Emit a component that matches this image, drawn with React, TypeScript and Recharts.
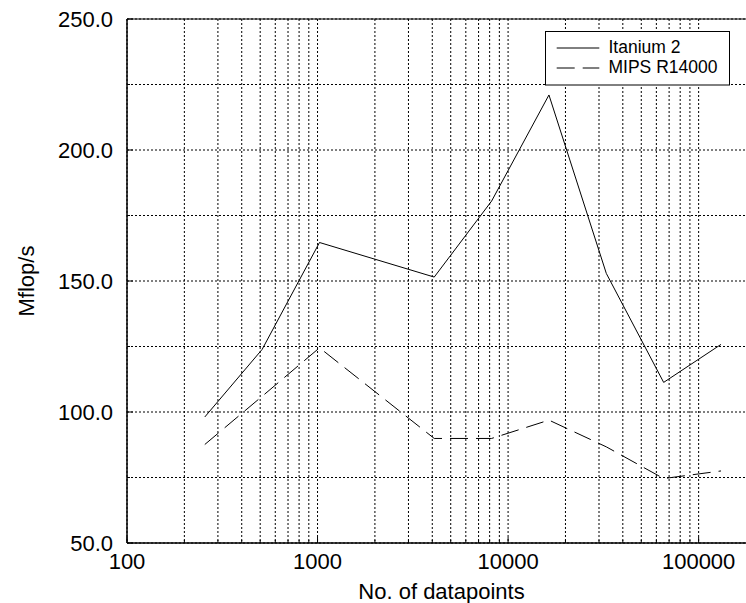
import React from 'react';
import {
  LineChart,
  Line,
  XAxis,
  YAxis,
  CartesianGrid,
  ReferenceArea,
  Legend,
  Label,
} from 'recharts';

// Problem sizes (number of datapoints) and measured throughput in Mflop/s
const sizes = [256, 512, 1024, 4096, 8192, 16384, 32768, 65536, 131072];
const itanium2 = [98.1, 123.9, 164.7, 151.5, 180.5, 221.0, 152.9, 111.3, 125.8];
const mipsR14000 = [87.6, 106.0, 124.5, 89.9, 89.9, 96.9, 86.7, 74.6, 77.5];

const seriesNames = ['Itanium 2', 'MIPS R14000'];
const seriesKeys = ['itanium', 'mips'];
const seriesDash = ['', '18 8'];

// Axis ticks: log decades with minor subdivisions on x, steps of 25 on y
const xDecades = [100, 1000, 10000, 100000];
const xMax = 200000;
const xLabels = [100, 1000, 10000, 100000];
const yTicks = [50, 75, 100, 125, 150, 175, 200, 225, 250];
const yLabels = [50, 100, 150, 200, 250];

const xTicks: number[] = [];
xDecades.forEach((d) => {
  for (let m = 1; m <= 9; m++) {
    if (m * d <= xMax) xTicks.push(m * d);
  }
});

const data = sizes.map((n, i) => ({
  n,
  itanium: itanium2[i],
  mips: mipsR14000[i],
}));

const FONT = '"Liberation Sans", Arial, Helvetica, sans-serif';

const BottomTick = (props: any) => {
  const { x, y, payload } = props;
  const major = xLabels.includes(payload.value);
  return (
    <g>
      <line x1={x} x2={x} y1={y} y2={y - (major ? 6 : 3)} stroke="#000" strokeWidth={1} />
      {major && (
        <text x={x} y={y + 26} textAnchor="middle" fontSize={22} fontFamily={FONT} fill="#000">
          {payload.value}
        </text>
      )}
    </g>
  );
};

const TopTick = (props: any) => {
  const { x, y, payload } = props;
  const major = xLabels.includes(payload.value);
  return <line x1={x} x2={x} y1={y} y2={y + (major ? 6 : 3)} stroke="#000" strokeWidth={1} />;
};

const LeftTick = (props: any) => {
  const { x, y, payload } = props;
  const major = yLabels.includes(payload.value);
  return (
    <g>
      <line x1={x} x2={x + (major ? 6 : 3)} y1={y} y2={y} stroke="#000" strokeWidth={1} />
      {major && (
        <text
          x={x - 14}
          y={y}
          dy="0.355em"
          textAnchor="end"
          fontSize={22}
          fontFamily={FONT}
          fill="#000"
        >
          {Number(payload.value).toFixed(1)}
        </text>
      )}
    </g>
  );
};

const YTitle = (props: any) => {
  const vb = props.viewBox || { x: 0, y: 0, width: 0, height: 0 };
  const cx = vb.x + 25.5;
  const cy = vb.y + vb.height / 2;
  return (
    <text
      x={cx}
      y={cy}
      transform={`rotate(-90 ${cx} ${cy})`}
      textAnchor="middle"
      fontSize={22}
      fontFamily={FONT}
      fill="#000"
    >
      Mflop/s
    </text>
  );
};

const LegendBox = (props: any) => {
  const payload = props.payload || [];
  return (
    <svg width={186} height={55} style={{ display: 'block' }}>
      <rect x={0.5} y={0.5} width={184} height={53.5} fill="#fff" stroke="#000" strokeWidth={1} />
      {payload.map((p: any, i: number) => {
        const idx = seriesNames.indexOf(p.value);
        return (
          <g key={p.value}>
            <line
              x1={11.7}
              x2={54.3}
              y1={17 + 20 * i}
              y2={17 + 20 * i}
              stroke="#000"
              strokeWidth={1}
              strokeDasharray={seriesDash[idx] || undefined}
            />
            <text x={63.5} y={21.5 + 20 * i} fontSize={17.5} fontFamily={FONT} fill="#000">
              {p.value}
            </text>
          </g>
        );
      })}
    </svg>
  );
};

export default function App() {
  return (
    <div
      style={{
        position: 'absolute',
        left: 8,
        top: 8,
        width: 738,
        height: 595,
        overflow: 'hidden',
        fontFamily: FONT,
      }}
    >
      <LineChart
        width={760}
        height={595}
        data={data}
        margin={{ top: 11, right: 12, bottom: 0, left: 0 }}
      >
        <CartesianGrid stroke="#000" strokeWidth={1} strokeDasharray="2 2" />
        <XAxis
          dataKey="n"
          type="number"
          scale="log"
          domain={[100, xMax]}
          allowDataOverflow
          ticks={xTicks}
          interval={0}
          tickSize={0}
          tickMargin={0}
          tickLine={false}
          tick={<BottomTick />}
          axisLine={{ stroke: '#000' }}
          height={60}
        >
          <Label
            value="No. of datapoints"
            position="insideBottom"
            offset={4}
            fontSize={22}
            fontFamily={FONT}
            fill="#000"
          />
        </XAxis>
        <XAxis
          xAxisId="top"
          orientation="top"
          dataKey="n"
          type="number"
          scale="log"
          domain={[100, xMax]}
          allowDataOverflow
          ticks={xTicks}
          interval={0}
          tickSize={0}
          tickMargin={0}
          tickLine={false}
          tick={<TopTick />}
          axisLine={{ stroke: '#000' }}
          height={0}
        />
        <YAxis
          type="number"
          domain={[50, 250]}
          allowDataOverflow
          ticks={yTicks}
          interval={0}
          tickSize={0}
          tickMargin={0}
          tickLine={false}
          tick={<LeftTick />}
          axisLine={{ stroke: '#000' }}
          width={119}
        >
          <Label content={<YTitle />} />
        </YAxis>
        <ReferenceArea x1={100} x2={xMax} y1={50} y2={250} fill="none" stroke="#000" strokeWidth={1} ifOverflow="visible" />
        {seriesKeys.map((k, i) => (
          <Line
            key={k}
            dataKey={k}
            name={seriesNames[i]}
            stroke="#000"
            strokeWidth={1}
            strokeDasharray={seriesDash[i] || undefined}
            dot={false}
            activeDot={false}
            isAnimationActive={false}
          />
        ))}
        <Legend
          layout="horizontal"
          verticalAlign="middle"
          align="center"
          content={<LegendBox />}
          wrapperStyle={{ position: 'absolute', left: 537, top: 22.7, width: 'auto', height: 'auto' }}
        />
      </LineChart>
    </div>
  );
}
